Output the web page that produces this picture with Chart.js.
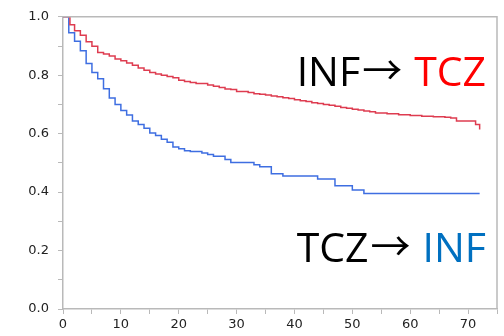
<!DOCTYPE html>
<html>
<head>
<meta charset="utf-8">
<script src="https://cdn.jsdelivr.net/npm/chart.js@4/dist/chart.umd.min.js"></script>
<style>
  html, body { margin: 0; padding: 0; background: #fff; }
  #wrap { width: 504px; height: 336px; }
</style>
</head>
<body>
<div id="wrap"><canvas id="km" width="504" height="336"></canvas></div>
<script>
// TCZ -> INF (blue)
const tczInfTime = [0, 1, 2, 3, 4, 5, 6, 7, 8, 9, 10, 11, 12, 13, 14, 15, 16, 17, 18, 19, 20, 21, 22, 24, 25, 26, 28, 29, 33, 34, 36, 38, 44, 47, 50, 52, 72];
const tczInfSurv = [1.0, 0.945, 0.916, 0.884, 0.840, 0.809, 0.788, 0.754, 0.722, 0.700, 0.679, 0.664, 0.643, 0.631, 0.619, 0.602, 0.594, 0.581, 0.571, 0.554, 0.548, 0.542, 0.539, 0.534, 0.529, 0.523, 0.512, 0.501, 0.494, 0.487, 0.463, 0.455, 0.445, 0.422, 0.407, 0.395, 0.395];

// INF -> TCZ (red)
const infTczTime = [0, 1.2, 2, 3, 4, 5, 6, 7, 8, 9, 10, 11, 12, 13, 14, 15, 16, 17, 18, 19, 20, 21, 22, 23, 25, 26, 27, 28, 29, 30, 32, 33,
  34, 35, 36, 37, 38, 39, 40, 41, 42, 43, 44, 45, 46, 47, 48, 49, 50, 51, 52, 53, 54, 56, 58, 60, 62, 64, 66, 67, 68, 71.3, 72];
const infTczSurv = [1.0, 0.973, 0.952, 0.937, 0.915, 0.899, 0.878, 0.873, 0.866, 0.856, 0.850, 0.842, 0.834, 0.825, 0.817, 0.809, 0.804, 0.800, 0.796, 0.791, 0.783, 0.779, 0.775, 0.772, 0.767, 0.762, 0.758, 0.753, 0.751, 0.744, 0.741, 0.737,
  0.735, 0.732, 0.729, 0.726, 0.723, 0.720, 0.716, 0.713, 0.710, 0.706, 0.703, 0.700, 0.697, 0.694, 0.690, 0.687, 0.684, 0.681, 0.678, 0.675, 0.671, 0.668, 0.665, 0.662, 0.660, 0.658, 0.656, 0.654, 0.643, 0.631, 0.614];

const xTicks = [0, 10, 20, 30, 40, 50, 60, 70];
const yTicks = [0.0, 0.2, 0.4, 0.6, 0.8, 1.0];

function pts(t, s) {
    return t.map((v, i) => ({ x: v, y: s[i] }));
}

const axisGray = '#b9b9b9';

// texto "INF→ TCZ" e "TCZ→ INF" com cores
const labelPlugin = {
    id: 'labels',
    afterDraw(chart) {
        const ctx = chart.ctx;
        const area = chart.chartArea;
        // moldura em cima e à direita
        ctx.save();
        ctx.strokeStyle = axisGray;
        ctx.lineWidth = 1.5;
        ctx.beginPath();
        ctx.moveTo(area.left, area.top);
        ctx.lineTo(area.right, area.top);
        ctx.lineTo(area.right, area.bottom);
        ctx.stroke();

        const txtFont = '41px "Open Sans", "Noto Sans", sans-serif';
        const arrowFont = '400 40px "Noto Sans CJK JP", sans-serif';
        ctx.textBaseline = 'alphabetic';
        ctx.textAlign = 'left';
        const rightX = 486;
        function drawPair(a, b, colB, y) {
            ctx.font = txtFont;
            const wb = ctx.measureText(b).width;
            const xb = rightX - wb;
            ctx.fillStyle = colB;
            ctx.fillText(b, xb, y);
            // seta
            ctx.font = arrowFont;
            const wArr = ctx.measureText('\u2192').width;
            const xArr = xb - 12 - wArr;
            ctx.fillStyle = '#000';
            ctx.fillText('\u2192', xArr, y - 1);
            ctx.font = txtFont;
            const wa = ctx.measureText(a).width;
            ctx.fillText(a, xArr - wa - 2, y);
        }
        drawPair('INF', 'TCZ', '#ff0000', 86);
        drawPair('TCZ', 'INF', '#0070c0', 262);
        ctx.restore();
    }
};

new Chart(document.getElementById('km'), {
    type: 'line',
    data: {
        datasets: [
            {
                label: 'INF→TCZ',
                data: pts(infTczTime, infTczSurv),
                borderColor: 'rgb(222, 60, 80)',
                borderWidth: 1.5,
                stepped: 'before',
                pointRadius: 0,
                fill: false
            },
            {
                label: 'TCZ→INF',
                data: pts(tczInfTime, tczInfSurv),
                borderColor: 'rgb(62, 110, 225)',
                borderWidth: 1.5,
                stepped: 'before',
                pointRadius: 0,
                fill: false
            }
        ]
    },
    options: {
        responsive: false,
        animation: false,
        layout: { padding: { top: 16, right: 7, left: 0, bottom: 0 } },
        plugins: {
            legend: { display: false },
            tooltip: { enabled: false }
        },
        scales: {
            x: {
                type: 'linear',
                min: 0,
                max: 75,
                afterFit(scale) { scale.height = 27; },
                border: { color: axisGray, width: 1.5 },
                grid: { drawOnChartArea: false, drawTicks: true, tickLength: 5, color: axisGray, lineWidth: 1 },
                ticks: {
                    stepSize: 5,
                    autoSkip: false,
                    maxRotation: 0,
                    padding: 3,
                    color: '#222',
                    font: { family: '"DejaVu Sans", Verdana, sans-serif', size: 13 },
                    callback: (v) => xTicks.includes(v) ? String(v) : ''
                }
            },
            y: {
                min: 0,
                max: 1,
                afterFit(scale) { scale.width = 63; },
                border: { color: axisGray, width: 1.5 },
                grid: { drawOnChartArea: false, drawTicks: true, tickLength: 5, color: axisGray, lineWidth: 1 },
                ticks: {
                    stepSize: 0.1,
                    autoSkip: false,
                    padding: 9,
                    color: '#222',
                    font: { family: '"DejaVu Sans", Verdana, sans-serif', size: 13 },
                    callback: (v) => {
                        const r = Math.round(v * 10) / 10;
                        return yTicks.some(t => Math.abs(t - r) < 1e-9) ? r.toFixed(1) : '';
                    }
                }
            }
        }
    },
    plugins: [labelPlugin]
});
</script>
</body>
</html>
